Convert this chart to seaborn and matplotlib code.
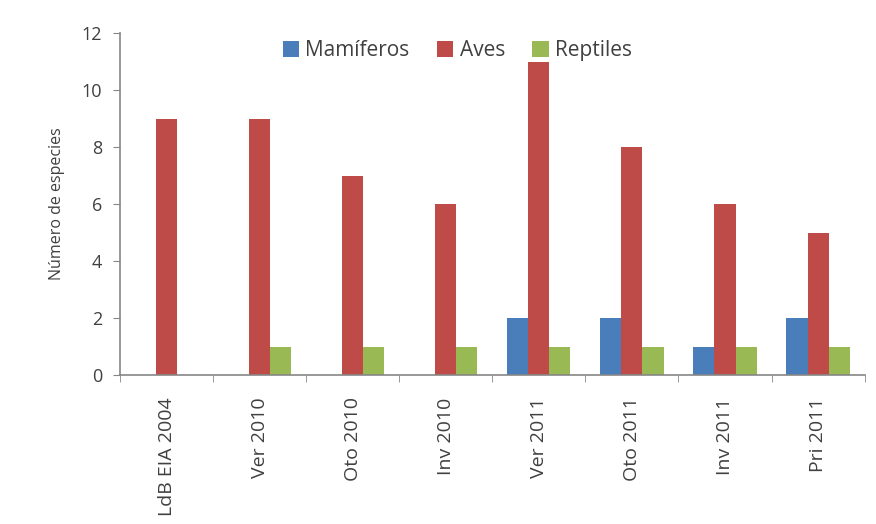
import pandas as pd
import numpy as np
import matplotlib.pyplot as plt
import seaborn as sns
from matplotlib.ticker import FixedLocator

# data
categorias = ["LdB EIA 2004", "Ver 2010", "Oto 2010", "Inv 2010",
              "Ver 2011", "Oto 2011", "Inv 2011", "Pri 2011"]
mamiferos = [0, 0, 0, 0, 2, 2, 1, 2]
aves = [9, 9, 7, 6, 11, 8, 6, 5]
reptiles = [0, 1, 1, 1, 1, 1, 1, 1]
grupos = ["Mamíferos", "Aves", "Reptiles"]
colores = ["#4a7ebb", "#be4b48", "#98b954"]

df = pd.DataFrame({
    "categoria": categorias * 3,
    "grupo": np.repeat(grupos, len(categorias)),
    "valor": mamiferos + aves + reptiles,
})

sns.set_style("white")
plt.rcParams['font.family'] = ['Open Sans', 'DejaVu Sans']

fig = plt.figure(figsize=(8.76, 5.24), dpi=100)
ax = fig.add_axes([0.137, 0.284, 0.850, 0.653])

sns.barplot(data=df, x="categoria", y="valor", hue="grupo", hue_order=grupos,
            order=categorias, palette=colores, width=0.68, saturation=1,
            linewidth=0, ax=ax, errorbar=None)

ax.set_ylim(0, 12)
ax.set_yticks(range(0, 13, 2))
ax.set_xlim(-0.5, len(categorias) - 0.5)
ax.set_xlabel("")
ax.set_ylabel("Número de especies", fontsize=11.5, color="#404040", labelpad=12)

gris = "#868686"
for s in ["top", "right"]:
    ax.spines[s].set_visible(False)
for s in ["left", "bottom"]:
    ax.spines[s].set_color(gris)
    ax.spines[s].set_linewidth(1.2)

ax.tick_params(axis="y", which="major", direction="out", length=5, color=gris,
               labelsize=13, labelcolor="#404040", left=True, pad=8)
ax.tick_params(axis="x", which="major", length=0, labelsize=14,
               labelcolor="#404040", labelrotation=90, pad=16)
ax.xaxis.set_minor_locator(FixedLocator(np.arange(-0.5, len(categorias), 1.0)))
ax.tick_params(axis="x", which="minor", direction="out", length=5, color=gris,
               bottom=True)

ax.legend(loc="upper center", bbox_to_anchor=(0.453, 1.035), ncol=3, frameon=False,
          fontsize=15, handlelength=0.8, handleheight=0.8, handletextpad=0.3,
          columnspacing=1.3, labelcolor="#404040")

fig.savefig("out.png", dpi=100)
